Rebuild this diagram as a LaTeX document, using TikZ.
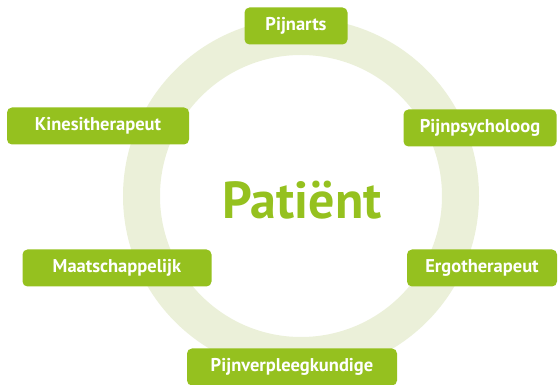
\documentclass[tikz,border=0pt]{standalone}
\usepackage{fontspec}
\setmainfont{PT Sans}
\definecolor{boxgreen}{HTML}{95C11F}
\definecolor{ringgreen}{HTML}{EBF0D9}
\begin{document}
\begin{tikzpicture}[x=1pt,y=1pt,
  role/.style={fill=boxgreen,rounded corners=5pt,text=white,font=\fontsize{18.5}{20}\selectfont\bfseries,
    minimum height=37pt,inner xsep=10pt}]
  \useasboundingbox (0,0) rectangle (560,385);

  \draw[ringgreen,line width=37pt] (301,189) circle (159.5);

  \node[text=boxgreen,font=\fontsize{52}{56}\selectfont\bfseries] (patient) at (302,185) {Patiënt};

  \node[role,minimum width=103pt] (pijnarts) at (296,359) {Pijnarts};
  \node[role,minimum width=182pt] (kine) at (98,259) {Kinesitherapeut};
  \node[role,minimum width=153pt] (psych) at (480,257) {Pijnpsycholoog};
  \node[role,minimum width=189pt] (maat) at (117,117) {Maatschappelijk};
  \node[role,minimum width=150pt] (ergo) at (482,117) {Ergotherapeut};
  \node[role,minimum width=210pt] (verpl) at (292,18) {Pijnverpleegkundige};
\end{tikzpicture}
\end{document}
